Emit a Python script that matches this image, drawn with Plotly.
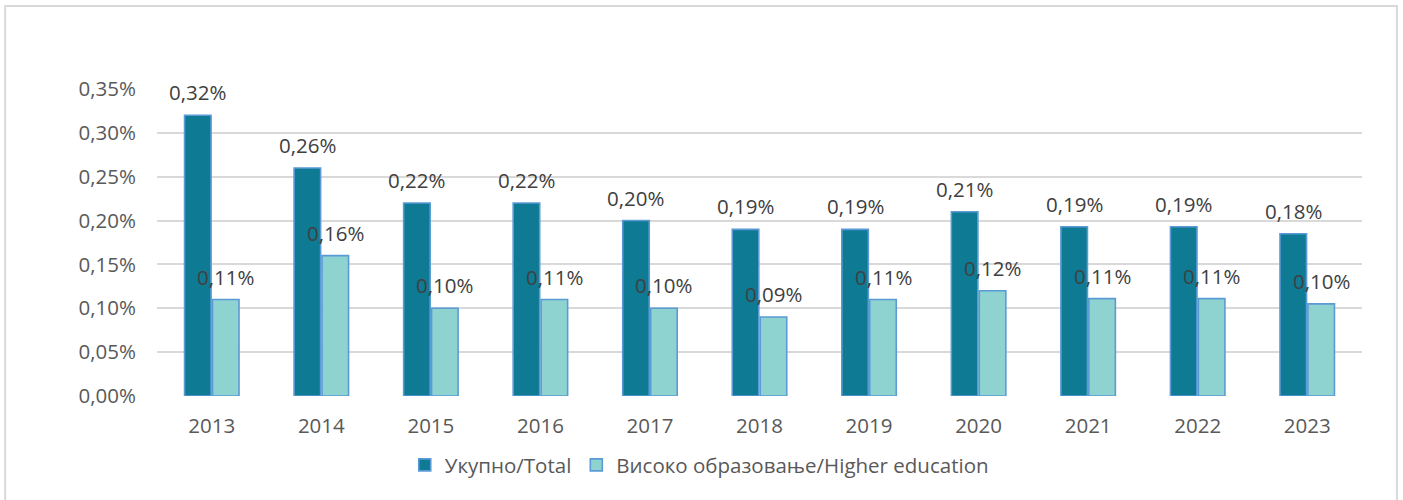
import plotly.graph_objects as go

years = ["2013", "2014", "2015", "2016", "2017", "2018", "2019", "2020", "2021", "2022", "2023"]
total = [0.32, 0.26, 0.22, 0.22, 0.20, 0.19, 0.19, 0.21, 0.193, 0.193, 0.185]
higher = [0.11, 0.16, 0.10, 0.11, 0.10, 0.09, 0.11, 0.12, 0.111, 0.111, 0.105]
total_labels = ["0,32%", "0,26%", "0,22%", "0,22%", "0,20%", "0,19%", "0,19%", "0,21%", "0,19%", "0,19%", "0,18%"]
higher_labels = ["0,11%", "0,16%", "0,10%", "0,11%", "0,10%", "0,09%", "0,11%", "0,12%", "0,11%", "0,11%", "0,10%"]
y_ticks = [0, 0.05, 0.10, 0.15, 0.20, 0.25, 0.30, 0.35]
y_ticktext = ["0,00%", "0,05%", "0,10%", "0,15%", "0,20%", "0,25%", "0,30%", "0,35%"]
names = ["Укупно/Total", "Високо образовање/Higher education"]

FONT = "Open Sans"
FS = 20.5
TXT = "#595959"
OUTLINE = "#5B9BD5"

fig = go.Figure()
fig.add_trace(go.Bar(x=years, y=total, name=names[0], marker=dict(color="#0F7A93", line=dict(color=OUTLINE, width=1.6))))
fig.add_trace(go.Bar(x=years, y=higher, name=names[1], marker=dict(color="#8ED3D0", line=dict(color=OUTLINE, width=1.6))))

annotations = []
for i, (v, t) in enumerate(zip(total, total_labels)):
    annotations.append(dict(x=i, y=v, xref="x", yref="y", text=t, showarrow=False,
                            xshift=-14, yshift=23, yanchor="middle",
                            font=dict(family=FONT, size=FS, color="#404040")))
for i, (v, t) in enumerate(zip(higher, higher_labels)):
    annotations.append(dict(x=i, y=v, xref="x", yref="y", text=t, showarrow=False,
                            xshift=14, yshift=23, yanchor="middle",
                            font=dict(family=FONT, size=FS, color="#404040")))

fig.update_layout(
    width=1403, height=500,
    margin=dict(l=157, r=41, t=89, b=104),
    paper_bgcolor="white", plot_bgcolor="white",
    barmode="group", bargap=0.49, bargroupgap=0.05,
    font=dict(family=FONT, size=FS, color=TXT),
    showlegend=True,
    legend=dict(orientation="h", x=0.45, xanchor="center", y=-0.225, yanchor="middle",
                font=dict(family=FONT, size=FS, color=TXT), itemwidth=30, traceorder="normal"),
    annotations=annotations,
    shapes=[dict(type="rect", xref="paper", yref="paper", x0=-0.126, x1=1.029, y0=-0.36, y1=1.270,
                 line=dict(color="#d9d9d9", width=2), fillcolor="rgba(0,0,0,0)", layer="below")],
)
fig.update_yaxes(range=[0, 0.35], tickvals=y_ticks, ticktext=y_ticktext, showgrid=True,
                 gridcolor="#d9d9d9", gridwidth=2, zeroline=False, showline=False,
                 ticklabelstandoff=20, tickfont=dict(family=FONT, size=FS, color=TXT))
fig.update_xaxes(type="category", range=[-0.5, len(years) - 0.5], showgrid=False, showline=False,
                 ticklabelstandoff=15, tickfont=dict(family=FONT, size=FS, color=TXT))

fig.write_html("out.html", config={"displayModeBar": False},
               post_script="document.body.style.margin='0';")
